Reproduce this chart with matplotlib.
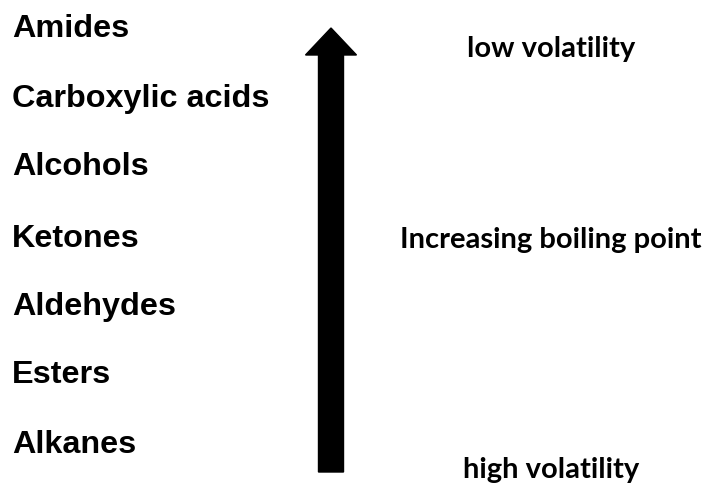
import matplotlib
matplotlib.use('Agg')
import matplotlib.pyplot as plt
from matplotlib.patches import FancyArrow

# functional groups, lowest boiling point at the bottom
groups = ['Amides', 'Carboxylic acids', 'Alcohols', 'Ketones',
          'Aldehydes', 'Esters', 'Alkanes']
group_y = [29, 99, 167, 239, 307, 375, 445]

side_labels = ['low volatility', 'Increasing boiling point', 'high volatility']
side_y = [49, 240, 470]

fig = plt.figure(figsize=(7.09, 4.86), dpi=100)
ax = fig.add_axes([0, 0, 1, 1])
ax.set_xlim(0, 709)
ax.set_ylim(486, 0)
ax.axis('off')

for name, y in zip(groups, group_y):
    ax.text(12, y, name, fontsize=23.3, fontweight='bold',
            family='Liberation Sans', va='center', ha='left')

for name, y in zip(side_labels, side_y):
    ax.text(551, y, name, fontsize=21, fontweight='bold',
            family='Lato', va='center', ha='center')

# the big arrow
ax.add_patch(FancyArrow(331, 472, 0, -444, width=25, head_width=51,
                        head_length=27, length_includes_head=True,
                        color='black'))

fig.savefig('out.png', dpi=100)
